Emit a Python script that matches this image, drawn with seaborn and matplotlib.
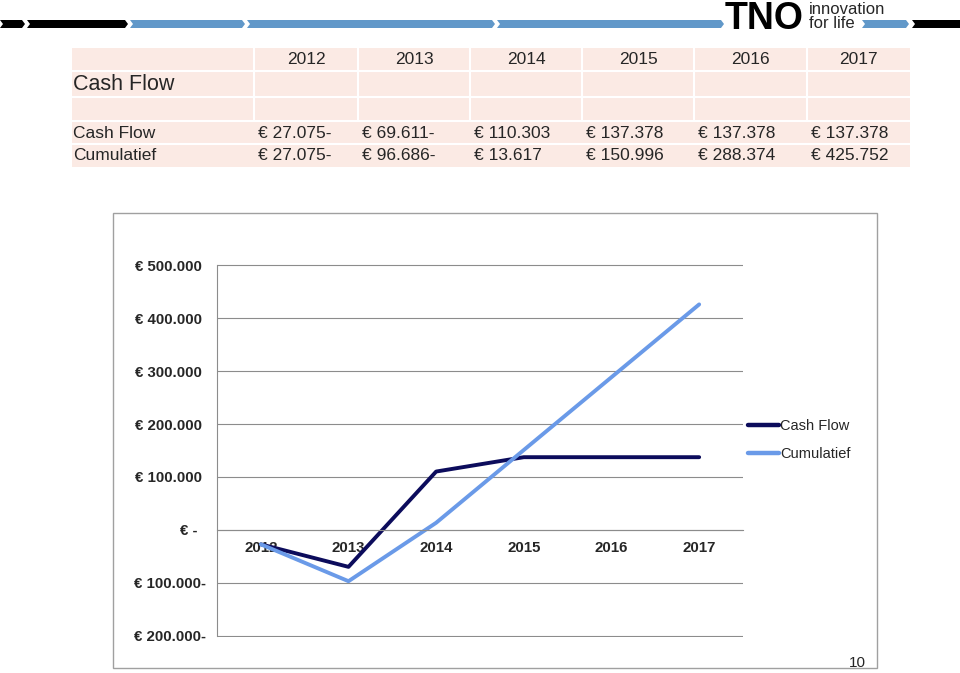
import numpy as np
import pandas as pd
from matplotlib import pyplot as plt
from matplotlib.patches import Rectangle, Polygon
import seaborn as sns

# data
years = ["2012", "2013", "2014", "2015", "2016", "2017"]
cash_flow = [-27075, -69611, 110303, 137378, 137378, 137378]
cumulatief = [-27075, -96686, 13617, 150996, 288374, 425752]
y_ticks = [-200000, -100000, 0, 100000, 200000, 300000, 400000, 500000]

NAVY = "#0c0c5c"
LIGHT = "#6a9ae8"
BLUE_BAR = "#6198c9"
PINK = "#fbeae4"
GRID = "#8c8c8c"


def euro(v, trail=" "):
    if v == 0:
        return "€ -  "
    s = f"{abs(v):,.0f}".replace(",", ".")
    return f"€ {s}-" if v < 0 else f"€ {s}{trail}"


sns.set_style("white")
plt.rcParams["font.family"] = ["Liberation Sans", "DejaVu Sans"]

fig = plt.figure(figsize=(9.6, 6.73), dpi=100)

# slide background in pixel coords
bg = fig.add_axes([0, 0, 1, 1])
bg.set_xlim(0, 960)
bg.set_ylim(673, 0)
bg.axis("off")

# header bar with chevron segments
def segment(x0, x1, color):
    y0, y1, ym = 20, 28, 24
    pts = [(x0, y0), (x1 - 3, y0), (x1, ym), (x1 - 3, y1), (x0, y1), (x0 + 3, ym)]
    bg.add_patch(Polygon(pts, closed=True, color=color, lw=0))

for a, b in [(0, 25), (27, 128)]:
    segment(a, b, "black")
for a, b in [(130, 245), (247, 495), (497, 724), (862, 909)]:
    segment(a, b, BLUE_BAR)
segment(912, 965, "black")

# logo
bg.text(725, 29, "TNO", fontsize=27, fontweight="heavy", ha="left", va="baseline",
        color="black")
bg.text(809, 14, "innovation", fontsize=12, ha="left", va="baseline")
bg.text(809, 28, "for life", fontsize=12, ha="left", va="baseline")

# table
col_edges = [72, 254, 358, 470, 582, 694, 807, 910]
row_edges = [48, 71, 97, 121, 144, 167]
bg.add_patch(Rectangle((col_edges[0], row_edges[0]), col_edges[-1] - col_edges[0],
                       row_edges[-1] - row_edges[0], color=PINK, lw=0))
for x in col_edges[1:-1]:
    bg.plot([x, x], [row_edges[0], row_edges[3]], color="white", lw=1.5)
for y in row_edges[1:-1]:
    bg.plot([col_edges[0], col_edges[-1]], [y, y], color="white", lw=1.5)

for i, yr in enumerate(years):
    cx = (col_edges[i + 1] + col_edges[i + 2]) / 2
    bg.text(cx, 60, yr, fontsize=12.5, ha="center", va="center")
bg.text(73, 85, "Cash Flow", fontsize=15.5, ha="left", va="center")
for row_y, name, vals in [(133, "Cash Flow", cash_flow), (156, "Cumulatief", cumulatief)]:
    bg.text(73, row_y, name, fontsize=12.5, ha="left", va="center")
    for i, v in enumerate(vals):
        bg.text(col_edges[i + 1] + 4, row_y, euro(v, ""), fontsize=12.5,
                ha="left", va="center")

# chart box
bg.add_patch(Rectangle((113, 213), 764, 455, fill=False, ec="#a0a0a0", lw=1))
bg.text(857, 663, "10", fontsize=11, ha="center", va="center")

# chart
ax = fig.add_axes([217 / 960, (673 - 637) / 673, 526 / 960, 373 / 673])
ax.set_facecolor("none")

df = pd.DataFrame({
    "year": years * 2,
    "value": cash_flow + cumulatief,
    "series": ["Cash Flow"] * len(years) + ["Cumulatief"] * len(years),
})
sns.lineplot(data=df, x="year", y="value", hue="series", sort=False,
             palette={"Cash Flow": NAVY, "Cumulatief": LIGHT}, linewidth=2.8, ax=ax)

ax.set_xlim(-0.5, len(years) - 0.5)
ax.set_ylim(y_ticks[0] - 2000, y_ticks[-1] + 2000)
ax.set_xlabel("")
ax.set_ylabel("")

# spine position first: it resets the ticks
ax.spines["bottom"].set_position(("data", 0))
ax.spines["bottom"].set_color(GRID)
ax.spines["left"].set_color(GRID)
ax.spines["left"].set_bounds(y_ticks[0], y_ticks[-1])
ax.spines["top"].set_visible(False)
ax.spines["right"].set_visible(False)

ax.set_yticks(y_ticks, labels=[euro(v) for v in y_ticks])
ax.yaxis.grid(True, color=GRID, lw=0.8)
ax.set_axisbelow(True)
ax.tick_params(axis="y", length=3.6, width=0.8, color=GRID, pad=4.5, labelsize=10.8)

ax.set_xticks(range(len(years)), labels=years)
ax.set_xticks(np.arange(-0.5, len(years)), minor=True)
ax.tick_params(axis="x", which="minor", length=2.5, width=0.8, color=GRID)
ax.tick_params(axis="x", which="major", length=0, pad=8, labelsize=10.8)
for t in ax.get_xticklabels() + ax.get_yticklabels():
    t.set_fontweight("bold")

sns.move_legend(ax, "upper left", bbox_to_anchor=(748 / 960, 1 - 419 / 673),
                bbox_transform=fig.transFigure, frameon=False, title=None,
                fontsize=10.5, handlelength=2.1, handletextpad=0.1,
                labelspacing=0.98, borderpad=0, borderaxespad=0)
for h in ax.get_legend().legend_handles:
    h.set_linewidth(3.2)

fig.savefig("out.png", dpi=100)
